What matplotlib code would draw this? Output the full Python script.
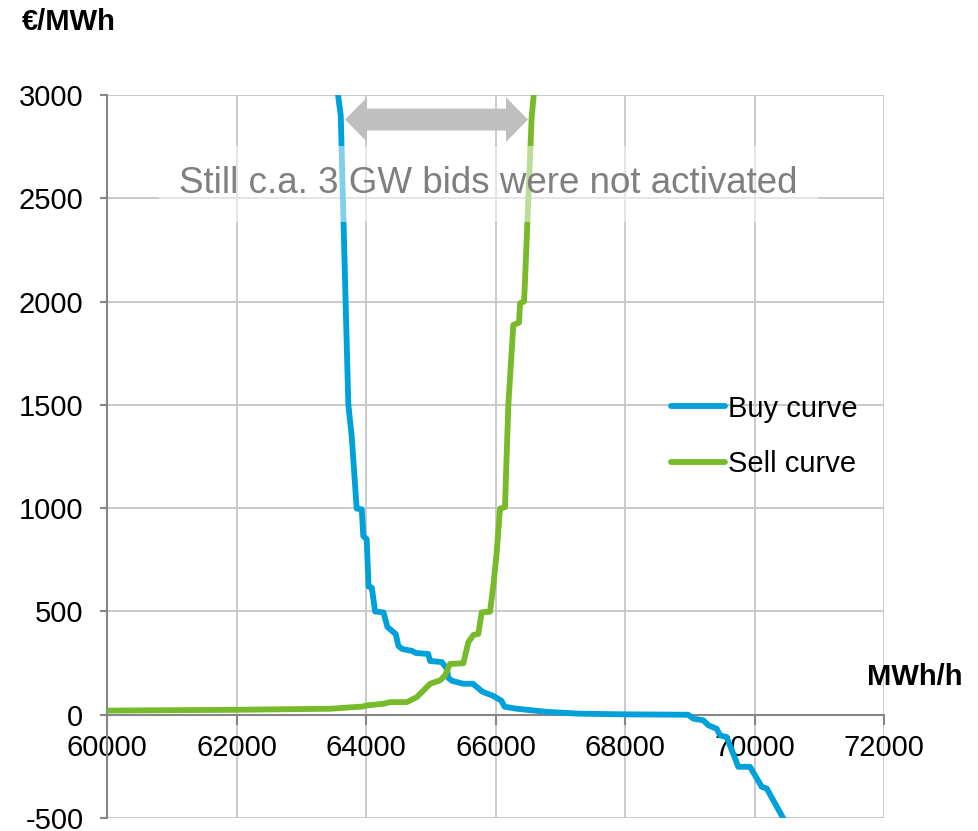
import numpy as np
import matplotlib.pyplot as plt

# kurven ablesen aus dem bild (MWh/h, EUR/MWh)
buy_x = [63540, 63568, 63610, 63676, 63727, 63779, 63856, 63934, 63958, 64010,
         64040, 64090, 64140, 64270, 64330, 64460, 64500, 64560, 64710, 64770, 64960, 64990,
         65170, 65250, 65270, 65330, 65500, 65650, 65800, 65960, 66090, 66140, 66330, 66640,
         66790, 67300, 68000, 68973, 69055, 69209, 69287, 69416, 69467, 69570, 69750, 69931,
         70111, 70188, 70445]
buy_y = [3200, 3000, 2900, 2104, 1501, 1348, 998, 994, 865, 850,
         620, 615, 500, 495, 425, 390, 333, 318, 309, 299, 294, 260,
         255, 222, 179, 164, 150, 150, 111, 92, 68, 39, 29, 19,
         14, 5, 2, 0, -19, -27, -51, -68, -100, -108, -252, -252,
         -349, -357, -502]

sell_x = [60000, 62000, 63444, 63958, 64010, 64268, 64371, 64629, 64783, 64911, 64989, 65143,
          65220, 65297, 65503, 65580, 65657, 65734, 65787, 65915, 65966, 66018, 66070, 66147,
          66160, 66198, 66275, 66363, 66379, 66440, 66456, 66558, 66620]
sell_y = [20, 24, 29, 40, 45, 53, 61, 61, 85, 125, 150, 166,
          190, 246, 249, 351, 386, 391, 496, 499, 624, 785, 998, 1005,
          1140, 1501, 1887, 1898, 1992, 2000, 2104, 2892, 3100]

arrow_x = [63676, 66502]
arrow_y = 2881

x_ticks = np.arange(60000, 72001, 2000)
y_ticks = np.arange(-500, 3001, 500)

blue = '#00a1da'
green = '#77bb2b'

plt.rcParams['font.family'] = ['Liberation Sans', 'DejaVu Sans']
plt.rcParams['axes.unicode_minus'] = False

fig = plt.figure(figsize=(9.79, 8.31), dpi=100)
ax = fig.add_axes([0.1093, 0.0156, 0.9030 - 0.1093, 0.8857 - 0.0156])

ax.plot(buy_x, buy_y, color=blue, lw=4.2, solid_capstyle='round', solid_joinstyle='round',
        label='Buy curve', zorder=3)
ax.plot(sell_x, sell_y, color=green, lw=4.2, solid_capstyle='round', solid_joinstyle='round',
        label='Sell curve', zorder=3)

ax.set_xlim(60000, 72000)
ax.set_ylim(-500, 3000)
ax.set_xticks(x_ticks)
ax.set_yticks(y_ticks)
ax.grid(True, color='#c6c6c6', lw=1.3, zorder=0)
ax.set_axisbelow(True)

for s in ['top', 'right']:
    ax.spines[s].set_visible(False)
ax.spines['bottom'].set_position(('data', 0))
ax.spines['bottom'].set_color('#868686')
ax.spines['left'].set_color('#868686')
ax.spines['bottom'].set_linewidth(1.5)
ax.spines['left'].set_linewidth(1.5)
ax.tick_params(axis='x', length=7, width=1.5, color='#868686', labelsize=21, pad=7, direction='out')
ax.tick_params(axis='y', length=5, width=1.5, color='#868686', labelsize=21, pad=12)
ax.xaxis.set_ticks_position('bottom')

# grauer doppelpfeil als ein polygon
body_h = 53     # halbe schaftbreite
head_h = 108    # halbe spitzenbreite
head_l = 340
x0, x1 = arrow_x
px = [x0, x0 + head_l, x0 + head_l, x1 - head_l, x1 - head_l, x1,
      x1 - head_l, x1 - head_l, x0 + head_l, x0 + head_l]
py = [arrow_y, arrow_y + head_h, arrow_y + body_h, arrow_y + body_h, arrow_y + head_h, arrow_y,
      arrow_y - head_h, arrow_y - body_h, arrow_y - body_h, arrow_y - head_h]
ax.fill(px, py, color='#bfbfbf', lw=0, zorder=4)

ax.text(65891, 2570, 'Still c.a. 3 GW bids were not activated', fontsize=26.5, color='#7f7f7f',
        ha='center', va='center', zorder=5,
        bbox=dict(boxstyle='square,pad=0.55', facecolor='white', edgecolor='none', alpha=0.5))

leg = ax.legend(loc='upper left', bbox_to_anchor=(0.692, 0.622), frameon=False, fontsize=21,
                handlelength=1.85, handletextpad=0.12, labelspacing=0.95)

fig.text(22 / 979, 1 - 22 / 831, '€/MWh', fontsize=21, fontweight='bold', ha='left', va='center')
fig.text(915 / 979, 1 - 677 / 831, 'MWh/h', fontsize=21, fontweight='bold', ha='center', va='center')

fig.savefig('out.png', dpi=100)
